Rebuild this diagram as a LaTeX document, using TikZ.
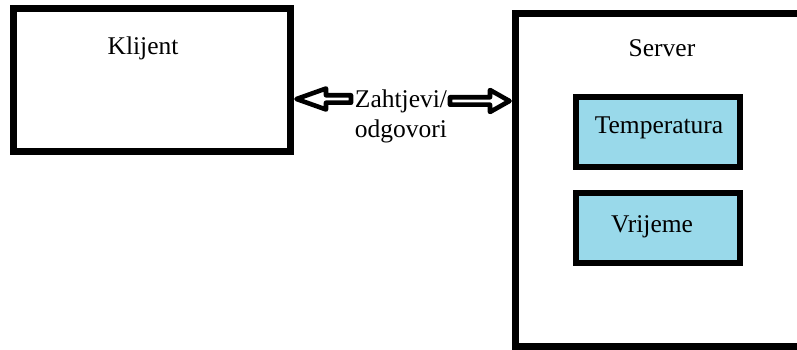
\documentclass[tikz,border=0pt]{standalone}
\usepackage{fontspec}
\setmainfont{Liberation Serif}
\definecolor{paintblue}{HTML}{99D9EA}
\begin{document}
\begin{tikzpicture}[x=1pt,y=-1pt,
  bigbox/.style={draw=black, line width=7pt, fill=white, inner sep=0pt},
  smallbox/.style={draw=black, line width=6pt, fill=paintblue, inner sep=0pt, minimum width=164pt, minimum height=70pt},
  lbl/.style={anchor=base, inner sep=0pt, font=\fontsize{25.5}{29}\selectfont},
  blockarrow/.style={draw=black, line width=4.6pt, fill=white, line join=round}]
\useasboundingbox (0,0) rectangle (797,350);
\node[bigbox, minimum width=277pt, minimum height=143pt] (klijent) at (152,80) {};
\node[bigbox, minimum width=289.5pt, minimum height=333pt] (server) at (660.25,180) {};
\node[smallbox] (temp) at (658,132) {};
\node[smallbox] (vrij) at (658,228) {};
\node[lbl] (tklijent) at (143,55) {Klijent};
\node[lbl] (tserver) at (662,57) {Server};
\node[lbl] (ttemp) at (659,133) {Temperatura};
\node[lbl] (tvrij) at (652,232) {Vrijeme};
\node[lbl] (zaht) at (401,108) {Zahtjevi/};
\node[lbl] (odg) at (401,137) {odgovori};
% left block arrow (towards Klijent)
\draw[blockarrow, shift={(klijent.east)}]
  (2.5,19) -- (32,8.5) -- (32,15.3) -- (57,15.3) -- (57,22.7) -- (32,22.7) -- (32,29.5) -- cycle;
% right block arrow (towards Server)
\draw[blockarrow, shift={(server.west)}]
  (-2.5,-79) -- (-22,-90) -- (-22,-82.7) -- (-62,-82.7) -- (-62,-75.3) -- (-22,-75.3) -- (-22,-68) -- cycle;
\end{tikzpicture}
\end{document}
